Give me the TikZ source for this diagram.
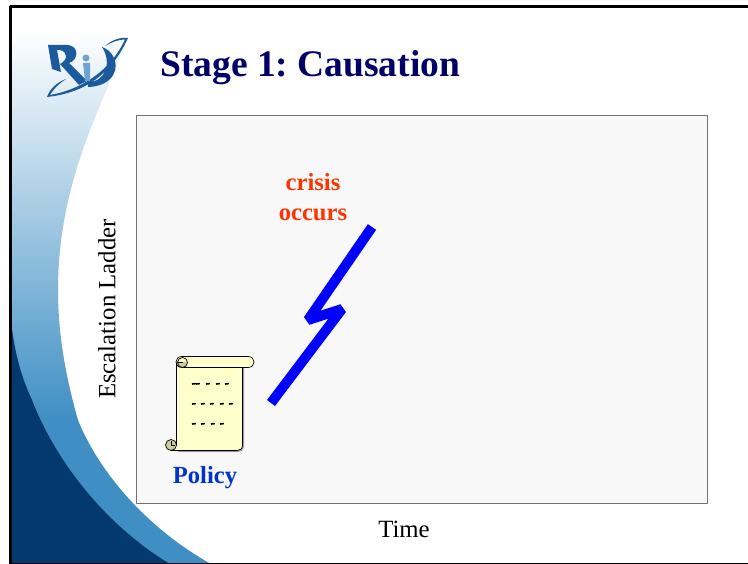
\documentclass[tikz,border=0pt]{standalone}
\usepackage{fontspec}
\setmainfont{Liberation Serif}
\frenchspacing
\definecolor{navytitle}{HTML}{000066}
\definecolor{swoopdark}{HTML}{03396F}
\definecolor{swoopmid}{HTML}{3F8FC4}
\definecolor{swooppale}{HTML}{B4D5E8}
\definecolor{panelgrey}{HTML}{F8F8F8}
\definecolor{scrollfill}{HTML}{FFFFCC}
\definecolor{curlfill}{HTML}{CCCC99}
\definecolor{crisisred}{HTML}{FF3300}
\definecolor{policyblue}{HTML}{0033CC}
\definecolor{logoblue}{HTML}{1C5A9E}
\definecolor{logolight}{HTML}{6FA3CF}
\begin{document}
\begin{tikzpicture}[x=1pt, y=-1pt, line join=round,
  axislabel/.style={font=\fontsize{24.8}{28}\selectfont, text=black},
  boldlabel/.style={font=\fontsize{24.6}{30}\selectfont\bfseries, align=center}]
  \useasboundingbox (0,0) rectangle (748,564);
  % Background
  \fill[white] (0,0) rectangle (748,564);
  \shade[top color=white, middle color=swooppale, bottom color=swoopmid]
    (11,30) -- (130,30) .. controls (112,90) and (58,170) .. (58,290)
    .. controls (58,340) and (68,385) .. (78,420) -- (11,420) -- cycle;
  \fill[swoopmid] (11,419) -- (77.5,419) .. controls (100,475) and (150,530) .. (211,564) -- (11,564) -- cycle;
  \fill[swoopdark] (11,320) .. controls (15,360) and (25,385) .. (32,400)
    .. controls (55,460) and (105,525) .. (170,564) -- (11,564) -- cycle;
  \draw[black, line width=3pt] (10.5,564) -- (10.5,6.5) -- (748,6.5);
  \draw[black, line width=0.8pt] (10,563.6) -- (748,563.6);
  % Logo
  \fill[logoblue] (47,97) .. controls (75,94) and (108,82) .. (128,38)
    .. controls (120,37) and (112,40) .. (105,46) .. controls (114,41) and (120,39.5) .. (125,39.5)
    .. controls (108,76) and (74,91) .. (50,95) .. controls (55,87) and (60,83) .. (66,79)
    .. controls (58,82) and (50,88) .. (47,97) -- cycle;
  \fill[logoblue] (48,45) -- (68,45) .. controls (79,46) and (79,60) .. (69,63)
    -- (87,81) -- (79,85) -- (60,64) .. controls (68,60) and (68,52) .. (60,50)
    -- (57,50) -- (61,72) -- (52,69) -- cycle;
  \fill[logoblue] (102,47) .. controls (122,54) and (122,86) .. (88,87) -- (88,82)
    .. controls (106,82) and (112,62) .. (102,47) -- cycle;
  \fill[logolight] (83,63) -- (90,63) -- (90,81) -- (85,81) -- cycle;
  \fill[logolight] (86,58) circle (3.5pt);
  % Title
  \node (title) [anchor=west, font=\fontsize{37.5}{42}\selectfont\bfseries, text=navytitle, inner sep=0pt] at (160,67.5) {Stage 1: Causation};
  % Panel
  \node (panel) [draw=black!55, fill=panelgrey, line width=0.7pt, minimum width=571pt, minimum height=388pt, inner sep=0pt, anchor=north west] at (136,115) {};
  \node (ylabel) [axislabel, rotate=90] at (107,309) {Escalation Ladder};
  \node (xlabel) [axislabel] at (404,529) {Time};
  % Scroll
  \fill[black!40] (178,368) -- (244,368) -- (244,447)
    .. controls (244,450) and (241,452) .. (238,452) -- (178,452) -- cycle;
  \draw[fill=scrollfill, line width=0.7pt] (176.5,362) -- (176.5,445)
    -- (171,450.5) -- (237,450.5)
    .. controls (240,450.5) and (242.5,449) .. (242.5,445) -- (242.5,362) -- cycle;
  \draw[fill=scrollfill, line width=0.7pt] (182,356.5) -- (248,356.5)
    .. controls (256,356.5) and (256,367.5) .. (248,367.5) -- (182,367.5)
    .. controls (174,367.5) and (174,356.5) .. (182,356.5) -- cycle;
  \begin{scope}
    \clip (176,362.5) rectangle (189,369);
    \fill[curlfill] (182.5,362.5) circle (5pt);
  \end{scope}
  \draw[line width=0.7pt] (182.5,362.5) circle (5pt);
  \draw[line width=0.7pt] (177.5,362.5) -- (183,362.5);
  \draw[fill=curlfill, line width=0.7pt] (171,445) circle (5.5pt);
  \draw[line width=0.7pt] (171,445) -- (171,441) (171,445) -- (175,445);
  \foreach \ypos/\xlist in {384/{192,196,206,216,225}, 404/{192,201,210,220,229}, 424/{192,201,211,220}}
    \foreach \xpos in \xlist
      \draw[line width=1.6pt] (\xpos,\ypos) -- ++(3.8,-0.4);
  \node (policy) [boldlabel, text=policyblue] at (205,477.5) {Policy};
  % Lightning
  \coordinate (boltend) at (372,227);
  \coordinate (boltkink) at (308,320);
  \coordinate (boltback) at (342,309);
  \coordinate (boltstart) at (271,403);
  \draw[blue, line width=10pt, line join=bevel] (boltend) -- (boltkink) -- (boltback) -- (boltstart);
  \node (crisis) [boldlabel, text=crisisred] at (313,197) {crisis\\occurs};
\end{tikzpicture}
\end{document}
